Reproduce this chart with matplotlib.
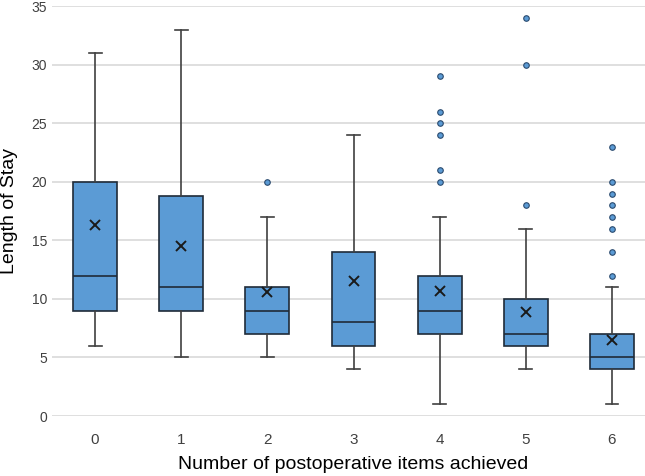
import matplotlib.pyplot as plt
import numpy as np

plt.rcParams['font.family'] = ['Liberation Sans', 'DejaVu Sans']

groups = ['0', '1', '2', '3', '4', '5', '6']
whislo = [6, 5, 5, 4, 1, 4, 1]
q1 = [9, 9, 7, 6, 7, 6, 4]
med = [12, 11, 9, 8, 9, 7, 5]
q3 = [20, 18.8, 11, 14, 12, 10, 7]
whishi = [31, 33, 17, 24, 17, 16, 11]
means = [16.3, 14.5, 10.6, 11.5, 10.7, 8.9, 6.5]
fliers = [[], [], [20], [], [29, 26, 25, 24, 21, 20], [34, 30, 18],
          [23, 20, 19, 18, 17, 16, 14, 12]]

stats = []
for i in range(len(groups)):
    stats.append(dict(label=groups[i], whislo=whislo[i], q1=q1[i], med=med[i],
                      q3=q3[i], whishi=whishi[i], mean=means[i], fliers=fliers[i]))

fig = plt.figure(figsize=(6.45, 4.76), dpi=100)
ax = fig.add_axes([0.0806, 0.126, 0.935, 0.861])

edge = '#1f2b38'
blue = '#5b9bd5'
ax.bxp(stats, positions=range(len(groups)), widths=0.51, patch_artist=True,
       showmeans=True, capwidths=0.15,
       boxprops=dict(facecolor=blue, edgecolor=edge, linewidth=1.2),
       medianprops=dict(color=edge, linewidth=1.2),
       whiskerprops=dict(color='#404040', linewidth=1.2),
       capprops=dict(color='#404040', linewidth=1.2),
       meanprops=dict(marker='x', markeredgecolor='#1a1a1a', markersize=7,
                      markeredgewidth=1.4),
       flierprops=dict(marker='o', markerfacecolor=blue, markeredgecolor='#2a4a6e',
                       markersize=4, markeredgewidth=0.8))

ax.set_ylim(0, 35)
ax.set_xlim(-0.5, 6.5)
ax.set_yticks(np.arange(0, 36, 5))
ax.yaxis.grid(True, color='#d9d9d9', linewidth=1.2)
ax.set_axisbelow(True)
for s in ax.spines.values():
    s.set_visible(False)
ax.tick_params(length=0, labelsize=10, colors='#404040')
ax.tick_params(axis='x', labelsize=11, pad=12)
ax.set_xlabel('Number of postoperative items achieved', fontsize=14, labelpad=7)
ax.set_ylabel('Length of Stay', fontsize=14, labelpad=10)

fig.savefig('out.png', dpi=100)
